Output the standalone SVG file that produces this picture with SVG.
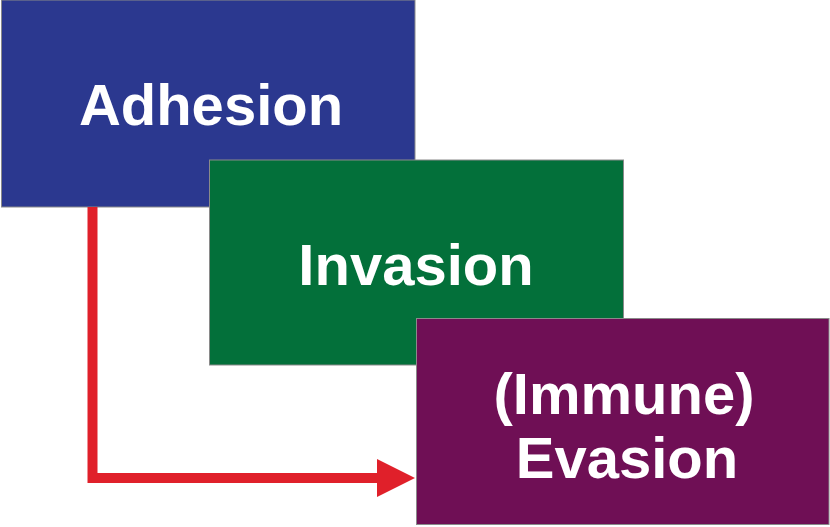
<svg xmlns="http://www.w3.org/2000/svg" width="830" height="527" viewBox="0 0 830 527">
<style>
.box{stroke:#8a8a8a;stroke-width:1}
.lbl{font-family:"Liberation Sans",Arial,sans-serif;font-weight:bold;font-size:58px;fill:#ffffff;text-anchor:middle}
</style>
<defs>
<marker id="ah" markerUnits="userSpaceOnUse" markerWidth="40" markerHeight="40" refX="1" refY="20" orient="auto">
<path d="M0,1 L38,20 L0,39 Z" fill="#e0202a"/>
</marker>
</defs>
<rect width="830" height="527" fill="#ffffff"/>
<g id="node-adhesion">
<rect class="box" x="1.5" y="0" width="413.5" height="207" fill="#2b388f"/>
<text class="lbl" x="211" y="125">Adhesion</text>
</g>
<g id="node-invasion">
<rect class="box" x="209.5" y="160" width="414" height="205" fill="#03703a"/>
<text class="lbl" x="416" y="285">Invasion</text>
</g>
<g id="node-evasion">
<rect class="box" x="416.5" y="318.5" width="412.5" height="206" fill="#6f0f55"/>
<text class="lbl" x="624" y="414">(Immune)</text>
<text class="lbl" x="627" y="478">Evasion</text>
</g>
<g id="connectors">
<path d="M92.5,207 V478 H378" fill="none" stroke="#e0202a" stroke-width="10" marker-end="url(#ah)"/>
</g>
</svg>
